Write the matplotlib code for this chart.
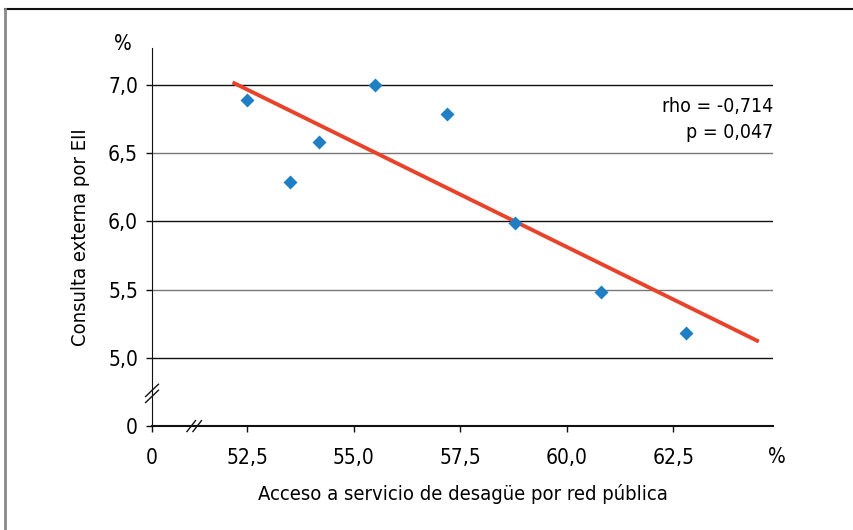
import numpy as np
from matplotlib import pyplot as plt
from matplotlib.lines import Line2D

plt.rcParams['font.family'] = ['DejaVu Sans']
plt.rcParams['font.stretch'] = 'condensed'

# data
desague = [52.5, 53.5, 54.2, 55.5, 57.2, 58.8, 60.8, 62.8]
consulta = [6.89, 6.29, 6.58, 7.00, 6.79, 5.99, 5.48, 5.18]
trend_x = [52.16, 64.51]
trend_y = [7.02, 5.12]

y_ticks = [4.5, 5.0, 5.5, 6.0, 6.5, 7.0]
y_labels = ['0', '5,0', '5,5', '6,0', '6,5', '7,0']
x_ticks = [50.27, 52.5, 55.0, 57.5, 60.0, 62.5]
x_labels = ['0', '52,5', '55,0', '57,5', '60,0', '62,5']
grid_y = [5.0, 5.5, 6.0, 6.5, 7.0]

fig = plt.figure(figsize=(8.54, 5.30), dpi=100)
ax = fig.add_axes([0.178, 0.196, 0.727, 0.713])

for g in grid_y:
    col = '#111111' if g in (5.0, 6.0, 7.0) else '#777777'
    ax.axhline(g, color=col, lw=1.0, zorder=1)

ax.plot(desague, consulta, 'D', color='#1f7fc4', ms=7, mec='none', zorder=3)
ax.plot(trend_x, trend_y, color='#e8432a', lw=2.8, solid_capstyle='butt', zorder=2)

ax.set_xlim(50.27, 64.84)
ax.set_ylim(4.5, 7.27)
ax.set_xticks(x_ticks)
ax.set_xticklabels(x_labels)
ax.set_yticks(y_ticks)
ax.set_yticklabels(y_labels)
ax.tick_params(labelsize=15, length=4, width=1, color='#111111', pad=12)
ax.tick_params(axis='y', pad=6)
for s in ['top', 'right']:
    ax.spines[s].set_visible(False)
ax.spines['left'].set_color('#111111')
ax.spines['bottom'].set_color('#111111')
ax.spines['bottom'].set_linewidth(1.5)

# axis breaks
for dx in [-0.07, 0.07]:
    ax.plot([51.26 + dx - 0.1, 51.26 + dx + 0.1], [4.46, 4.54], color='#111111',
            lw=1, clip_on=False, zorder=5)
for dy in [-0.022, 0.022]:
    ax.plot([50.12, 50.42], [4.74 + dy - 0.045, 4.74 + dy + 0.045], color='#111111',
            lw=1, clip_on=False, zorder=5)

ax.text(64.84, 6.84, 'rho = -0,714', ha='right', va='center', fontsize=14)
ax.text(64.84, 6.65, 'p = 0,047', ha='right', va='center', fontsize=14)

ax.set_xlabel('Acceso a servicio de desagüe por red pública', fontsize=14.5, labelpad=11)
ax.set_ylabel('Consulta externa por EII', fontsize=14.5, labelpad=13)
fig.text(123 / 854, 1 - 44 / 530, '%', ha='center', va='center', fontsize=15)
fig.text(777 / 854, 1 - 457 / 530, '%', ha='center', va='center', fontsize=15)

# outer frame
fig.add_artist(Line2D([5 / 854, 1], [1 - 9 / 530, 1 - 9 / 530], color='#111111', lw=1.5))
fig.add_artist(Line2D([5 / 854, 5 / 854], [0, 1 - 9 / 530], color='#888888', lw=2))

fig.savefig('out.png')
plt.close()
